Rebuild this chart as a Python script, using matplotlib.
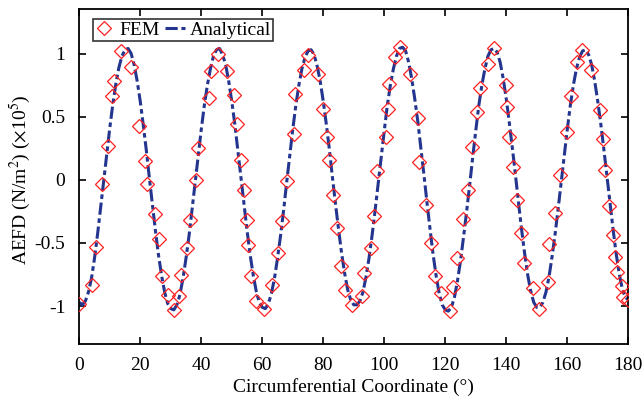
import numpy as np
import matplotlib
matplotlib.use('Agg')
import matplotlib.pyplot as plt

plt.rcParams['font.family'] = ['Liberation Serif', 'DejaVu Serif']
plt.rcParams['mathtext.fontset'] = 'stix'
plt.rcParams['axes.unicode_minus'] = False

# FEM results (circumferential position in deg, AEFD x1e5 N/m^2)
fem_x = [0.0, 4.1, 5.4, 7.3, 9.5, 10.6, 11.5, 13.6, 16.8, 19.7,
         21.5, 22.2, 24.8, 26.1, 27.2, 29.0, 30.9, 32.7, 33.3, 35.3,
         36.2, 38.3, 39.0, 42.4, 43.1, 45.5, 48.3, 50.7, 51.8, 53.1,
         54.0, 54.9, 55.4, 56.3, 58.0, 60.6, 63.1, 65.3, 66.5, 68.1,
         70.5, 70.8, 73.6, 75.1, 78.3, 79.9, 81.1, 81.9, 83.3, 84.6,
         85.8, 87.2, 89.5, 92.8, 93.2, 95.7, 96.5, 97.7, 100.5, 101.2,
         101.6, 103.5, 105.3, 108.5, 111.1, 111.4, 113.7, 115.2, 116.5, 118.5,
         121.5, 122.6, 123.9, 125.7, 127.3, 128.9, 130.3, 131.4, 134.0, 135.9,
         139.9, 140.1, 141.0, 142.2, 143.5, 144.9, 145.9, 148.8, 150.8, 153.8,
         154.1, 155.9, 157.5, 159.8, 161.3, 163.2, 164.8, 167.9, 170.7, 171.8,
         172.4, 173.7, 174.9, 175.7, 176.3, 177.9, 178.2, 180.0]
fem_y = [-0.98, -0.83, -0.53, -0.03, 0.27, 0.66, 0.78, 1.02, 0.89, 0.43,
         0.15, -0.03, -0.27, -0.47, -0.76, -0.91, -1.03, -0.92, -0.75, -0.54,
         -0.32, 0.00, 0.25, 0.65, 0.86, 1.00, 0.86, 0.67, 0.44, 0.16,
         -0.08, -0.32, -0.52, -0.76, -0.96, -1.02, -0.83, -0.58, -0.33, -0.01,
         0.36, 0.68, 0.87, 0.99, 0.84, 0.56, 0.34, 0.16, -0.12, -0.38,
         -0.68, -0.87, -0.99, -0.92, -0.74, -0.54, -0.29, 0.07, 0.34, 0.56,
         0.76, 0.97, 1.05, 0.84, 0.49, 0.14, -0.20, -0.50, -0.76, -0.90,
         -1.04, -0.85, -0.62, -0.31, -0.08, 0.26, 0.54, 0.73, 0.92, 1.04,
         0.75, 0.58, 0.34, 0.10, -0.16, -0.42, -0.66, -0.86, -1.02, -0.81,
         -0.51, -0.26, 0.04, 0.38, 0.66, 0.93, 1.03, 0.87, 0.55, 0.32,
         0.08, -0.21, -0.44, -0.61, -0.73, -0.84, -0.93, -0.95]

# analytical curve, sampled every 1 deg from 0 to 180
ana_x = np.arange(0, 181, 1)
ana_y = [-0.97, -0.99, -0.96, -0.89, -0.78, -0.62, -0.43, -0.22, -0.01, 0.20,
         0.41, 0.60, 0.76, 0.89, 0.98, 1.03, 1.04, 1.00, 0.91, 0.78,
         0.62, 0.43, 0.23, 0.01, -0.20, -0.41, -0.60, -0.76, -0.89, -0.98,
         -1.02, -1.03, -0.99, -0.91, -0.78, -0.62, -0.44, -0.23, -0.02, 0.19,
         0.40, 0.59, 0.75, 0.88, 0.98, 1.03, 1.04, 0.99, 0.91, 0.78,
         0.62, 0.44, 0.23, 0.02, -0.19, -0.40, -0.59, -0.75, -0.88, -0.97,
         -1.01, -1.02, -0.98, -0.90, -0.78, -0.62, -0.44, -0.24, -0.02, 0.19,
         0.40, 0.59, 0.75, 0.88, 0.97, 1.02, 1.03, 0.99, 0.90, 0.78,
         0.62, 0.44, 0.24, 0.02, -0.19, -0.39, -0.58, -0.74, -0.87, -0.95,
         -0.99, -0.99, -0.96, -0.89, -0.77, -0.62, -0.44, -0.24, -0.03, 0.18,
         0.39, 0.59, 0.75, 0.88, 0.98, 1.04, 1.05, 1.02, 0.93, 0.80,
         0.64, 0.46, 0.25, 0.04, -0.18, -0.39, -0.59, -0.76, -0.90, -0.99,
         -1.03, -1.04, -1.01, -0.93, -0.80, -0.64, -0.45, -0.25, -0.04, 0.18,
         0.39, 0.59, 0.75, 0.88, 0.98, 1.03, 1.04, 1.01, 0.93, 0.80,
         0.64, 0.45, 0.25, 0.04, -0.18, -0.39, -0.58, -0.75, -0.88, -0.97,
         -1.01, -1.01, -0.97, -0.89, -0.77, -0.61, -0.43, -0.23, -0.02, 0.19,
         0.40, 0.59, 0.75, 0.88, 0.97, 1.02, 1.03, 0.99, 0.91, 0.78,
         0.62, 0.44, 0.24, 0.03, -0.18, -0.39, -0.58, -0.74, -0.86, -0.93,
         -0.95]

fig = plt.figure(figsize=(6.44, 4.03), dpi=100)
ax = fig.add_axes([0.1231, 0.1464, 0.8525, 0.8305])

ax.plot(fem_x, fem_y, linestyle='none', marker='D', markersize=6.8,
        markerfacecolor='none', markeredgecolor='#ff2020', markeredgewidth=0.9,
        label='FEM', zorder=3)
ax.plot(ana_x, ana_y, color='#23358f', linewidth=2.2,
        dashes=[4, 1.2, 1.5, 1.2], label='Analytical', zorder=2)

ax.set_xlim(0, 180)
ax.set_ylim(-1.3, 1.35)
ax.set_xticks(np.arange(0, 181, 20))
ax.set_yticks([-1, -0.5, 0, 0.5, 1])
ax.set_yticklabels(['-1', '-0.5', '0', '0.5', '1'])
ax.tick_params(direction='in', length=5, width=1.2, top=True, right=True,
               labelsize=14)
ax.tick_params(axis='y', pad=10)
ax.tick_params(axis='x', pad=9)
for s in ax.spines.values():
    s.set_linewidth(1.3)

ax.set_xlabel('Circumferential Coordinate (°)', fontsize=14, labelpad=3)
ax.set_ylabel(r'AEFD (N/m$^{2}$) ($\times$10$^{5}$)', fontsize=14)
ax.yaxis.set_label_coords(-0.085, 0.49)

leg = ax.legend(loc='upper left', bbox_to_anchor=(0.0245, 0.971), ncol=2,
                fontsize=14, frameon=True, fancybox=False, handlelength=1.0,
                handletextpad=0.25, columnspacing=0.3, borderpad=0.1,
                borderaxespad=0)
leg.get_frame().set_edgecolor('black')
leg.get_frame().set_linewidth(1.2)

plt.savefig('out.png', dpi=100)
